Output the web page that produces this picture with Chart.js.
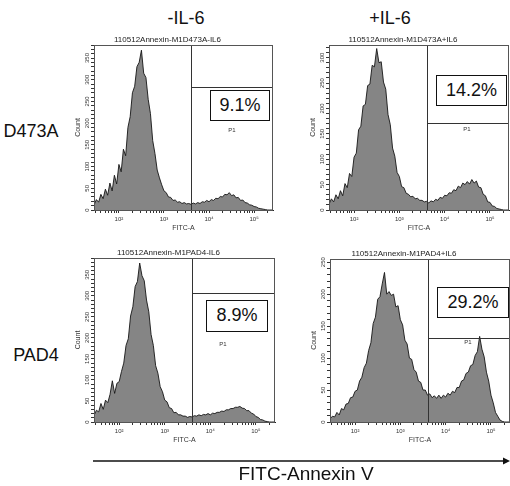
<!DOCTYPE html>
<html>
<head>
<meta charset="utf-8">
<script src="https://cdn.jsdelivr.net/npm/chart.js@4.4.1/dist/chart.umd.min.js"></script>
<style>
  html, body { margin: 0; padding: 0; overflow: hidden; background: #fff; }
  body { width: 510px; height: 486px; position: relative; font-family: "Liberation Sans", Arial, sans-serif; color: #111; }
  canvas { position: absolute; }
  .big { position: absolute; font-size: 18px; transform: translate(-50%, -50%); white-space: nowrap; }
  .pct { position: absolute; border: 1.5px solid #111; background: #fff; font-size: 18px; text-align: center; box-sizing: border-box; }
  .gate { position: absolute; font-size: 6px; color: #333; transform: translate(-50%, -50%); }
</style>
</head>
<body>
<canvas id="p1" width="222" height="203" style="left:62px;top:33px"></canvas>
<canvas id="p2" width="220" height="203" style="left:297px;top:33px"></canvas>
<canvas id="p3" width="220" height="202" style="left:62px;top:246px"></canvas>
<canvas id="p4" width="220" height="201" style="left:298px;top:247px"></canvas>

<div class="big" style="left:186px;top:18px">-IL-6</div>
<div class="big" style="left:390px;top:18px">+IL-6</div>
<div class="big" style="left:31px;top:131px">D473A</div>
<div class="big" style="left:36px;top:355px">PAD4</div>

<div class="pct" style="left:210px;top:90px;width:60px;height:31px;line-height:28px" id="pct1"></div>
<div class="pct" style="left:436px;top:75px;width:71px;height:31px;line-height:28px" id="pct2"></div>
<div class="pct" style="left:206px;top:300px;width:62px;height:32px;line-height:29px" id="pct3"></div>
<div class="pct" style="left:437px;top:287px;width:72px;height:31px;line-height:28px" id="pct4"></div>

<div class="gate" style="left:232px;top:130px">P1</div>
<div class="gate" style="left:467px;top:129px">P1</div>
<div class="gate" style="left:223px;top:344px">P1</div>
<div class="gate" style="left:468px;top:342px">P1</div>

<svg width="510" height="486" style="position:absolute;left:0;top:0;pointer-events:none">
  <line x1="93" y1="461" x2="506" y2="461" stroke="#111" stroke-width="1.3"/>
  <polygon points="510,461 503,457.5 503,464.5" fill="#111"/>
</svg>
<div class="big" style="left:306px;top:474px;font-size:19px">FITC-Annexin V</div>

<script>
// bin centres, log10 of FITC-A intensity
const binExp = [
  1.45, 1.50, 1.55, 1.60, 1.65, 1.70, 1.75, 1.80, 1.85, 1.90,
  1.95, 2.00, 2.05, 2.10, 2.15, 2.20, 2.25, 2.30, 2.35, 2.40,
  2.45, 2.50, 2.55, 2.60, 2.65, 2.70, 2.75, 2.80, 2.85, 2.90,
  2.95, 3.00, 3.05, 3.10, 3.15, 3.20, 3.25, 3.30, 3.35, 3.40,
  3.45, 3.50, 3.55, 3.60, 3.65, 3.70, 3.75, 3.80, 3.85, 3.90,
  3.95, 4.00, 4.05, 4.10, 4.15, 4.20, 4.25, 4.30, 4.35, 4.40,
  4.45, 4.50, 4.55, 4.60, 4.65, 4.70, 4.75, 4.80, 4.85, 4.90,
  4.95, 5.00, 5.05, 5.10, 5.15, 5.20, 5.25, 5.30, 5.35, 5.40
];

// counts per bin
const d473aNoIL6 = [
  12, 24, 18, 36, 26, 48, 34, 62, 44, 80,
  60, 105, 88, 140, 125, 190, 215, 270, 285, 330,
  340, 368, 315, 305, 255, 222, 160, 130, 92, 74,
  58, 44, 40, 30, 29, 22, 23, 18, 19, 15,
  17, 14, 15, 13, 16, 14, 17, 15, 19, 18,
  22, 19, 24, 22, 27, 26, 31, 30, 36, 35,
  40, 33, 35, 28, 29, 22, 23, 17, 16, 12,
  11, 8, 7, 4, 3, 2, 1, 0, 0, 0
];
const d473aIL6 = [
  12, 22, 16, 30, 22, 38, 28, 52, 44, 72,
  66, 104, 112, 158, 165, 205, 208, 245, 248, 285,
  282, 318, 290, 292, 252, 238, 188, 168, 122, 106,
  74, 66, 46, 44, 33, 31, 26, 27, 22, 23,
  19, 19, 16, 17, 14, 18, 16, 21, 19, 25,
  23, 29, 28, 34, 33, 40, 38, 47, 44, 53,
  50, 56, 51, 60, 53, 57, 45, 44, 31, 28,
  16, 15, 8, 7, 3, 2, 1, 0, 0, 0
];
const pad4NoIL6 = [
  16, 28, 24, 44, 30, 52, 46, 66, 98, 68,
  92, 96, 120, 140, 182, 198, 252, 274, 322, 334,
  378, 348, 336, 290, 262, 208, 182, 134, 116, 84,
  72, 52, 48, 34, 32, 22, 23, 17, 17, 14,
  14, 11, 13, 12, 15, 14, 17, 15, 18, 17,
  20, 17, 21, 20, 23, 23, 26, 25, 29, 29,
  32, 32, 35, 35, 37, 33, 32, 27, 27, 21,
  19, 13, 11, 6, 5, 2, 1, 0, 0, 0
];
const pad4IL6 = [
  5, 9, 8, 15, 11, 21, 19, 28, 29, 38,
  39, 48, 50, 64, 70, 85, 92, 112, 124, 154,
  164, 192, 196, 216, 234, 200, 204, 198, 200, 180,
  182, 160, 152, 128, 122, 100, 98, 82, 78, 64,
  62, 50, 50, 42, 44, 38, 41, 37, 42, 37,
  42, 39, 45, 42, 48, 46, 54, 54, 64, 66,
  76, 78, 88, 90, 104, 110, 134, 114, 102, 78,
  64, 42, 30, 15, 9, 3, 1, 0, 0, 0
];

const titles = ['110512Annexin-M1D473A-IL6', '110512Annexin-M1D473A+IL6',
                '110512Annexin-M1PAD4-IL6', '110512Annexin-M1PAD4+IL6'];
const percents = ['9.1%', '14.2%', '8.9%', '29.2%'];
const yMax = [380, 325, 390, 255];
const gateCount = [284, 172, 307, 131];
const gateFitc = 3980;
const xMin = 28, xMax = 263000;
const xTickLabels = { 100: '10\u00b2', 1000: '10\u00b3', 10000: '10\u2074', 100000: '10\u2075' };

Chart.defaults.font.family = '"Liberation Sans", Arial, sans-serif';
Chart.defaults.color = '#333';

// gate lines + plot frame
const gatePlugin = {
  id: 'gate',
  afterDatasetsDraw(chart, args, opts) {
    const { ctx, chartArea: a, scales: { x, y } } = chart;
    const gx = Math.round(x.getPixelForValue(opts.fitc)) + 0.5;
    const gy = Math.round(y.getPixelForValue(opts.count)) + 0.5;
    ctx.save();
    ctx.lineWidth = 1;
    ctx.strokeStyle = '#333';
    ctx.beginPath();
    ctx.moveTo(gx, a.top); ctx.lineTo(gx, a.bottom);
    ctx.moveTo(gx, gy); ctx.lineTo(a.right, gy);
    ctx.stroke();
    ctx.strokeStyle = '#555';
    ctx.strokeRect(Math.round(a.left) + 0.5, Math.round(a.top) + 0.5, Math.round(a.width) - 1, Math.round(a.height));
    ctx.restore();
  }
};

function makePanel(id, i, counts, padRight) {
  const pts = binExp.map((e, k) => ({ x: Math.pow(10, e), y: counts[k] }));
  document.getElementById('pct' + (i + 1)).textContent = percents[i];
  new Chart(document.getElementById(id), {
    type: 'line',
    data: {
      datasets: [{
        data: pts,
        fill: 'origin',
        backgroundColor: '#858585',
        borderColor: '#151515',
        borderWidth: 0.9,
        pointRadius: 0,
        tension: 0
      }]
    },
    options: {
      responsive: false,
      animation: false,
      devicePixelRatio: 1,
      layout: { autoPadding: false, padding: { left: 0, top: 0, right: padRight, bottom: 0 } },
      plugins: {
        legend: { display: false },
        tooltip: { enabled: false },
        title: {
          display: true,
          text: titles[i],
          font: { size: 8, weight: 'normal', lineHeight: 1.25 },
          padding: { top: 2, bottom: 0 },
          color: '#222'
        },
        gate: { fitc: gateFitc, count: gateCount[i] }
      },
      scales: {
        x: {
          type: 'logarithmic',
          min: xMin,
          max: xMax,
          afterBuildTicks(scale) {
            const t = [];
            for (let n = 1; n <= 5; n++) {
              for (let k = 1; k <= 9; k++) {
                const v = k * Math.pow(10, n);
                if (v > xMin && v < xMax) t.push({ value: v });
              }
            }
            scale.ticks = t;
          },
          afterFit(scale) { scale.height = 26; },
          ticks: {
            autoSkip: false,
            maxRotation: 0,
            minRotation: 0,
            padding: 3,
            font: { size: 6 },
            color: '#333',
            callback: (v) => xTickLabels[Math.round(v)] || ''
          },
          grid: { drawOnChartArea: false, drawTicks: true, tickLength: 3, color: '#333' },
          border: { display: true, color: '#222' },
          title: { display: true, text: 'FITC-A', font: { size: 7 }, padding: { top: 0, bottom: 4 }, color: '#333' }
        },
        y: {
          type: 'linear',
          min: 0,
          max: yMax[i],
          afterBuildTicks(scale) {
            const t = [];
            for (let v = 0; v <= yMax[i]; v += 10) t.push({ value: v });
            scale.ticks = t;
          },
          afterFit(scale) { scale.width = 32; },
          ticks: {
            autoSkip: false,
            minRotation: 90,
            maxRotation: 90,
            crossAlign: 'center',
            padding: -1,
            font: { size: 6 },
            color: '#333',
            callback: (v) => (v % 50 === 0 ? String(v) : '')
          },
          grid: { drawOnChartArea: false, drawTicks: true, tickLength: 3, color: '#333' },
          border: { display: true, color: '#222' },
          title: { display: true, text: 'Count', font: { size: 7 }, padding: { top: 12 }, color: '#333' }
        }
      }
    },
    plugins: [gatePlugin]
  });
}

makePanel('p1', 0, d473aNoIL6, 11);
makePanel('p2', 1, d473aIL6, 8);
makePanel('p3', 2, pad4NoIL6, 7);
makePanel('p4', 3, pad4IL6, 8);
</script>
</body>
</html>
